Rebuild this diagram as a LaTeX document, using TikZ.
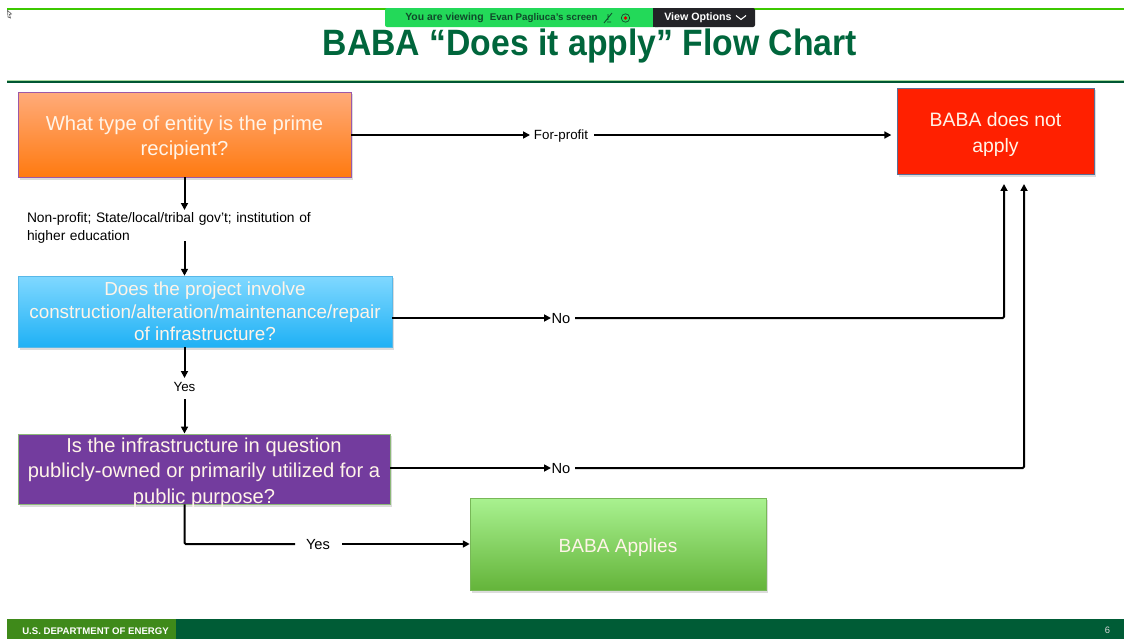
\documentclass[tikz,border=0pt]{standalone}
\usepackage{fontspec}
\setmainfont{Liberation Sans}
\usetikzlibrary{arrows.meta,calc}
\definecolor{doegreen}{HTML}{00663C}
\definecolor{footgreen}{HTML}{005C36}
\definecolor{footlight}{HTML}{3F8A1A}
\definecolor{linegreen}{HTML}{3CC800}
\definecolor{rulelight}{HTML}{A8D8A0}
\definecolor{zoomgreen}{HTML}{23D959}
\definecolor{zoomdark}{HTML}{232327}
\definecolor{zoomtext}{HTML}{0F4A2A}
\definecolor{boxtext}{HTML}{FFF4E8}
\definecolor{orangetop}{HTML}{FFAB7A}
\definecolor{orangebot}{HTML}{FF7A10}
\definecolor{orangeline}{HTML}{9B59A8}
\definecolor{bluetop}{HTML}{80D8FF}
\definecolor{bluebot}{HTML}{1FB1F5}
\definecolor{blueline}{HTML}{58B8E8}
\definecolor{purplefill}{HTML}{733C9E}
\definecolor{purpleline}{HTML}{8CB878}
\definecolor{greentop}{HTML}{A9F290}
\definecolor{greenbot}{HTML}{64B43A}
\definecolor{greenline}{HTML}{78B858}
\definecolor{redfill}{HTML}{FF2000}
\definecolor{redline}{HTML}{5A6E96}
\tikzset{
  x=0.75pt,y=-0.75pt,
  flowbox/.style={rectangle,inner sep=0pt,align=center,text=boxtext},
  conn/.style={draw=black,line width=1.5pt},
  arr/.style={conn,-{Triangle[length=5.2pt,width=5.2pt]}},
  lab/.style={inner sep=0pt,text=black,font=\fontsize{10pt}{13.4pt}\selectfont},
  biglab/.style={inner sep=0pt,text=black,font=\fontsize{11pt}{13pt}\selectfont},
  shadowbox/.style={fill=black!45,opacity=.3,draw=none},
}
\begin{document}
\begin{tikzpicture}
\useasboundingbox (0,0) rectangle (1124,639);
\fill[white] (0,0) rectangle (1124,639);
% top line and rule
\draw[linegreen,line width=.9pt] (7,9) -- (1124,9);
\fill[rulelight] (7,79.5) rectangle (1124,81);
\fill[doegreen!85!black] (7,80.5) rectangle (1124,83);
% cursor
\draw[black!60,line width=.5pt] (7.5,10.5) -- (11.5,14) -- (9.5,14.5) -- (10.5,18) -- (8,17) -- cycle;
% title
\node[text=doegreen,font=\bfseries\fontsize{27.5pt}{30pt}\selectfont,inner sep=0pt,xscale=.92,transform shape] (title) at (590,46) {BABA “Does it apply” Flow Chart};
% zoom banner
\fill[zoomgreen,rounded corners=1.5pt] (385,8) rectangle (660,27);
\fill[zoomdark,rounded corners=1.5pt] (653,8) rectangle (755,27);
\fill[zoomdark] (653,8) rectangle (660,27);
\node[text=zoomtext,font=\bfseries\fontsize{7.8pt}{9pt}\selectfont,inner sep=0pt,anchor=west] (viewing) at (405,18) {You are viewing};
\node[text=zoomtext,font=\bfseries\fontsize{7.3pt}{9pt}\selectfont,inner sep=0pt,anchor=west] (evan) at (489.5,18) {Evan Pagliuca's screen};
\draw[zoomtext,line width=.6pt] (604,23) -- (612,13) (607,22) -- (611,22) (608,14) -- (608,20);
\draw[zoomtext,line width=.5pt] (625.5,18) circle (4.2);
\fill[red!85!black] (625.5,18) circle (1.9);
\node[text=white,font=\bfseries\fontsize{8pt}{9pt}\selectfont,inner sep=0pt,anchor=west] (options) at (664,18) {View Options};
\draw[white,line width=.8pt] (736,15.5) -- (741,19.5) -- (746,15.5);
% box shadows
\fill[shadowbox] (20,94) rectangle (353,180);
\fill[shadowbox] (20,278) rectangle (394,350);
\fill[shadowbox] (20,436) rectangle (392,507);
\fill[shadowbox] (472,500) rectangle (768,592.5);
\fill[shadowbox] (899,90) rectangle (1096,176.5);
% boxes
\node[flowbox,draw=orangeline,line width=.7pt,top color=orangetop,bottom color=orangebot,
   font=\fontsize{15.15pt}{18.75pt}\selectfont,
   minimum width=333*.75pt,minimum height=85*.75pt] (orangebox) at (184.5,134.5) {\rule{0pt}{15.5pt}What type of entity is the prime\\recipient?};
\node[flowbox,draw=blueline,line width=.4pt,top color=bluetop,bottom color=bluebot,
   font=\fontsize{14.15pt}{16.9pt}\selectfont,
   minimum width=374*.75pt,minimum height=71*.75pt] (bluebox) at (205,311.5) {Does the project involve\\construction/alteration/maintenance/repair\\of infrastructure?};
\node[flowbox,draw=purpleline,line width=.7pt,fill=purplefill,
   minimum width=372*.75pt,minimum height=70*.75pt] (purplebox) at (204,469) {};
\node[flowbox,font=\fontsize{15.1pt}{19pt}\selectfont] (purpletext) at (204,472.5) {Is the infrastructure in question\\publicly-owned or primarily utilized for a\\public purpose?};
\node[flowbox,draw=greenline,line width=.4pt,top color=greentop,bottom color=greenbot,
   font=\fontsize{14.3pt}{19pt}\selectfont,
   minimum width=296*.75pt,minimum height=92*.75pt] (greenbox) at (618,544) {\rule{0pt}{15pt}BABA Applies};
\node[flowbox,draw=redline,line width=.5pt,fill=redfill,
   font=\fontsize{14.55pt}{19.5pt}\selectfont,
   minimum width=197*.75pt,minimum height=86*.75pt] (redbox) at (995.5,131) {\rule{0pt}{15.5pt}BABA does not\\apply};
% labels
\node[lab] (forprofit) at (561,136) {For-profit};
\node[lab,align=left,text width=295*.75pt,font=\fontsize{10.35pt}{13.4pt}\selectfont] (nonprofit) at (174.5,228) {Non-profit; State/local/tribal gov’t; institution of\\higher education};
\node[biglab] (no1) at (561,319) {No};
\node[lab] (yes1) at (184.5,386.5) {Yes};
\node[biglab] (no2) at (561,469) {No};
\node[biglab] (yes2) at (318,545) {Yes};
\coordinate (into1) at (1004,184);
\coordinate (into2) at (1024,184);
% connectors
\draw[arr] (orangebox.east |- 0,135) -- (530,135);
\draw[arr] (594,135) -- ([xshift=-4pt]redbox.west |- 0,135);
\draw[arr] (orangebox.south) -- (orangebox.south |- 0,210);
\draw[arr] (orangebox.south |- 0,241) -- (orangebox.south |- bluebox.north);
\draw[arr] (bluebox.east |- 0,318) -- (551,318);
\draw[arr,rounded corners=1pt] (575,318) -- (into1 |- 0,318) -- (into1);
\draw[arr] (orangebox.south |- bluebox.south) -- (orangebox.south |- 0,378);
\draw[arr] (orangebox.south |- 0,399) -- (orangebox.south |- purplebox.north);
\draw[arr] (purplebox.east |- 0,468) -- (551,468);
\draw[arr,rounded corners=1pt] (575,468) -- (into2 |- 0,468) -- (into2);
\draw[conn,rounded corners=1pt] (orangebox.south |- purplebox.south) -- (orangebox.south |- 0,544) -- (295,544);
\draw[arr] (342,544) -- (greenbox.west);
% footer
\fill[footgreen] (7,619) rectangle (1124,639);
\fill[footlight] (7,619) rectangle (176,639);
\node[text=white,font=\bfseries\fontsize{7.2pt}{8pt}\selectfont,inner sep=0pt,anchor=west] (dept) at (22,631) {U.S. DEPARTMENT OF ENERGY};
\node[text=white!85!black,font=\fontsize{7pt}{8pt}\selectfont,inner sep=0pt] (pagenum) at (1107.5,630.5) {6};
\end{tikzpicture}
\end{document}
